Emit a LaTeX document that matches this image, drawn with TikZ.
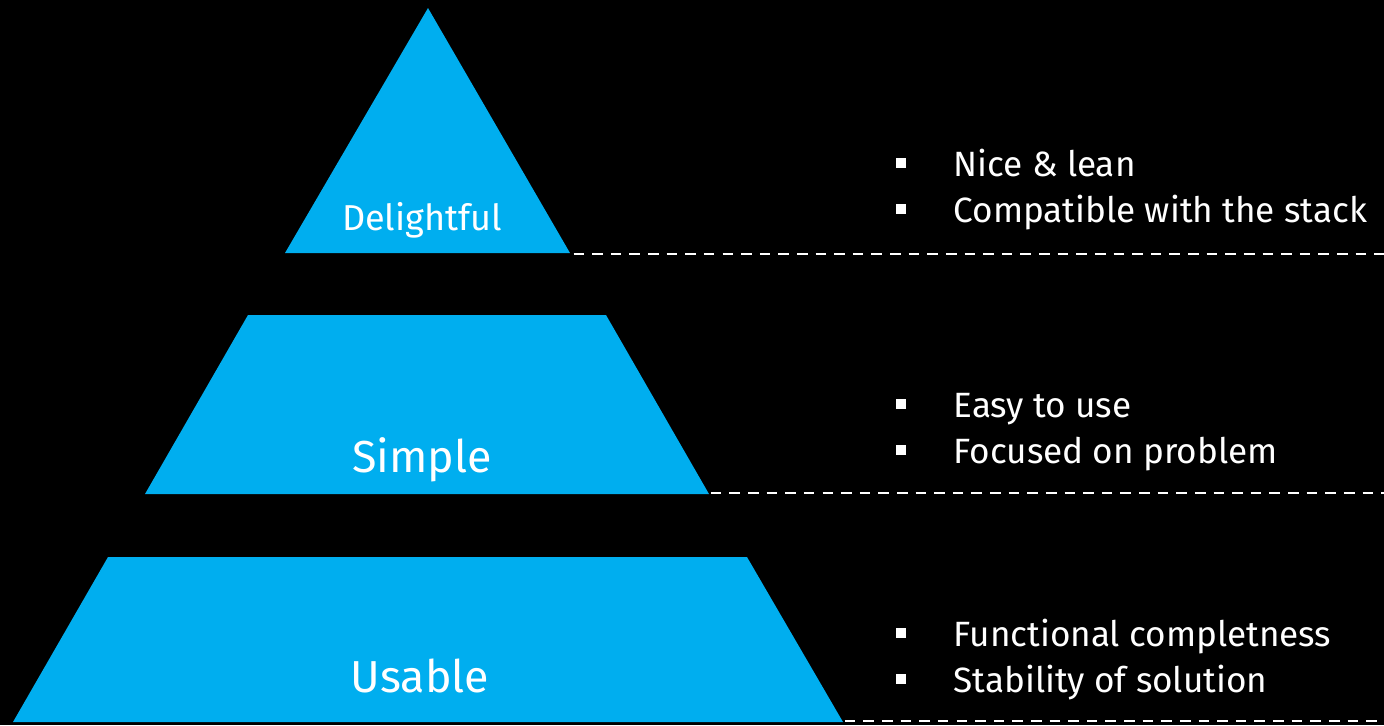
\documentclass[tikz,border=0pt]{standalone}
\usepackage{fontspec}
\setmainfont{Fira Sans}
\usetikzlibrary{positioning}
\definecolor{pyrblue}{RGB}{0,174,239}
\newcommand{\sqb}{\raisebox{4.5pt}{\rule{5.6pt}{5.6pt}}\hspace{27pt}}
\tikzset{
    %Define style for the pyramid levels
    lvl/.style={
           fill=pyrblue,
           draw=none},
    %level label
    lbl/.style={
           text=white,
           inner sep=0pt,
           anchor=base},
    %bullet lines
    itm/.style={
           text=white,
           inner sep=0pt,
           anchor=base west,
           font=\fontsize{20pt}{24pt}\selectfont},
    % Define separator style
    sep/.style={
           draw=white,
           line width=1.3pt,
           dash pattern=on 6pt off 4.6pt}
}
\begin{document}
\begin{tikzpicture}[x=0.02cm,y=-0.02cm]

\fill[black] (0,0) rectangle (1384,725);
\useasboundingbox (0,0) rectangle (1384,725);

%corners of the three levels
\coordinate (T) at (428,8);
\coordinate (D1) at (285,253);
\coordinate (D2) at (570,253);
\coordinate (S0) at (248,315);
\coordinate (S1) at (606,315);
\coordinate (S2) at (709,494);
\coordinate (S3) at (145,494);
\coordinate (U0) at (108,557);
\coordinate (U1) at (747,557);
\coordinate (U2) at (843,722);
\coordinate (U3) at (13,722);
\coordinate (E1) at (1384,254);
\coordinate (E2) at (1384,493);
\coordinate (E3) at (1384,721);

\path[lvl] (T) -- (D2) -- (D1) -- cycle;
\path[lvl] (S0) -- (S1) -- (S2) -- (S3) -- cycle;
\path[lvl] (U0) -- (U1) -- (U2) -- (U3) -- cycle;

\node[lbl, font=\fontsize{20.5pt}{24pt}\selectfont] (Del) at (422,230) {Delightful};
\node[lbl, font=\fontsize{25.5pt}{30pt}\selectfont] (Sim) at (422,472) {Simple};
\node[lbl, font=\fontsize{25.5pt}{30pt}\selectfont] (Usa) at (420,692) {Usable};

\node[itm] (n1) at (896,176) {\sqb Nice \& lean};
\node[itm] (n2) at (896,222) {\sqb Compatible with the stack};
\node[itm] (n3) at (896,417) {\sqb Easy to use};
\node[itm] (n4) at (896,463) {\sqb Focused on problem};
\node[itm] (n5) at (896,646) {\sqb Functional completness};
\node[itm] (n6) at (896,692) {\sqb Stability of solution};

\draw[sep] ([xshift=2pt]D2 |- E1) -- (E1);
\draw[sep] ([xshift=1pt]S2 |- E2) -- (E2);
\draw[sep] ([xshift=1pt]U2 |- E3) -- (E3);

\end{tikzpicture}
\end{document}
